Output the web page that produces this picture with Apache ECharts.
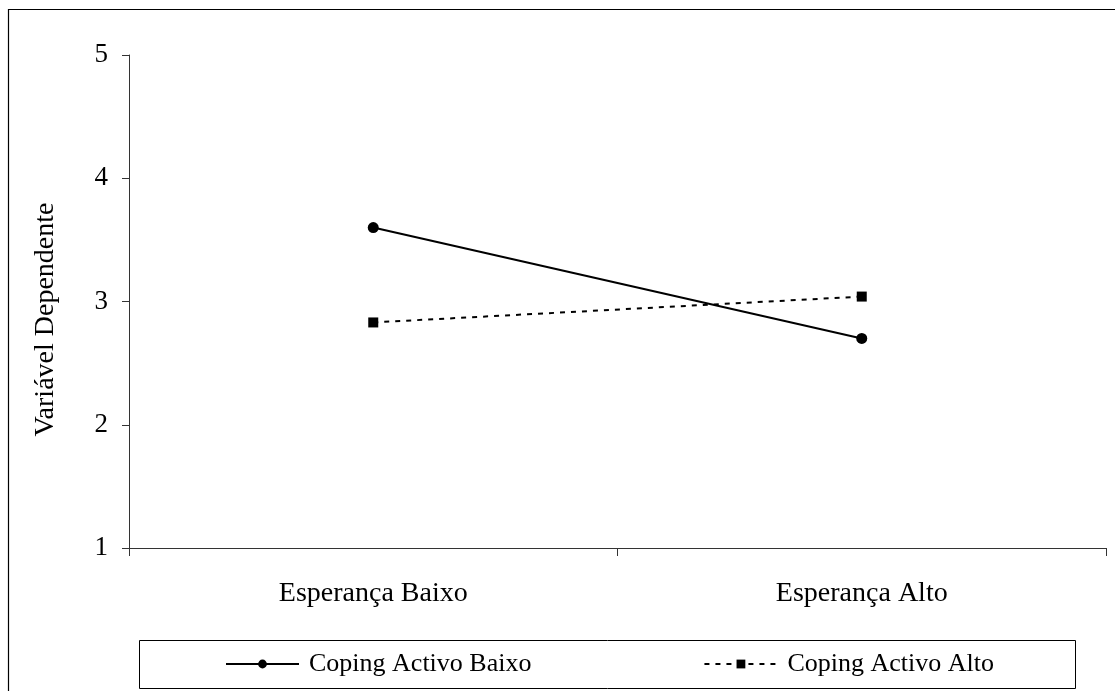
<!DOCTYPE html>
<html>
<head>
<meta charset="utf-8">
<script src="https://cdn.jsdelivr.net/npm/echarts@6/dist/echarts.min.js"></script>
<style>
html,body{margin:0;padding:0;background:#fff;}
#chart{width:1115px;height:691px;}
</style>
</head>
<body>
<div id="chart"></div>
<script>
var categories = ['Esperança Baixo', 'Esperança Alto'];
var copingActivoBaixo = [3.6, 2.7];
var copingActivoAlto = [2.83, 3.04];
var seriesNames = ['Coping Activo Baixo', 'Coping Activo Alto'];
var yTicks = [1, 2, 3, 4, 5];

var FONT = "'Liberation Serif','Times New Roman',serif";
var chart = echarts.init(document.getElementById('chart'), null, {renderer: 'canvas'});
chart.setOption({
  backgroundColor: '#fff',
  animation: false,
  textStyle: {fontFamily: FONT, color: '#000'},
  graphic: [
    {type: 'rect', shape: {x: 8.5, y: 9.5, width: 1110, height: 700}, style: {fill: 'none', stroke: '#000', lineWidth: 1.2}, silent: true, z: 0},
    {type: 'rect', shape: {x: 139.5, y: 640.5, width: 936, height: 48}, style: {fill: 'none', stroke: '#000', lineWidth: 1}, silent: true, z: 0}
  ],
  grid: {left: 129, right: 9, top: 55, bottom: 143, containLabel: false},
  xAxis: {
    type: 'category',
    data: categories,
    boundaryGap: true,
    axisLine: {lineStyle: {color: '#333', width: 1}},
    axisTick: {show: true, length: 8, alignWithLabel: false, lineStyle: {color: '#333'}},
    axisLabel: {fontFamily: FONT, fontSize: 28, color: '#000', margin: 32}
  },
  yAxis: {
    type: 'value',
    min: yTicks[0],
    max: yTicks[yTicks.length - 1],
    interval: 1,
    name: 'Variável Dependente',
    nameLocation: 'middle',
    nameGap: 69,
    nameTextStyle: {fontFamily: FONT, fontSize: 28, color: '#000', padding: [0, 36, 0, 0]},
    axisLine: {show: true, lineStyle: {color: '#333', width: 1}},
    axisTick: {show: true, length: 7, inside: false, lineStyle: {color: '#333'}},
    axisLabel: {fontFamily: FONT, fontSize: 27, color: '#000', margin: 21},
    splitLine: {show: false}
  },
  legend: {
    left: 225,
    top: 651,
    padding: 0,
    itemGap: 172,
    itemWidth: 73,
    itemHeight: 11,
    data: seriesNames,
    textStyle: {fontFamily: FONT, fontSize: 26, color: '#000', padding: [0, 0, 0, 5]}
  },
  series: [
    {
      name: seriesNames[0],
      type: 'line',
      data: copingActivoBaixo,
      symbol: 'circle',
      symbolSize: 11,
      itemStyle: {color: '#000'},
      lineStyle: {color: '#000', width: 2, type: 'solid'}
    },
    {
      name: seriesNames[1],
      type: 'line',
      data: copingActivoAlto,
      symbol: 'rect',
      symbolSize: 10,
      itemStyle: {color: '#000'},
      lineStyle: {color: '#000', width: 2, type: [5, 6]}
    }
  ]
});
</script>
</body>
</html>
